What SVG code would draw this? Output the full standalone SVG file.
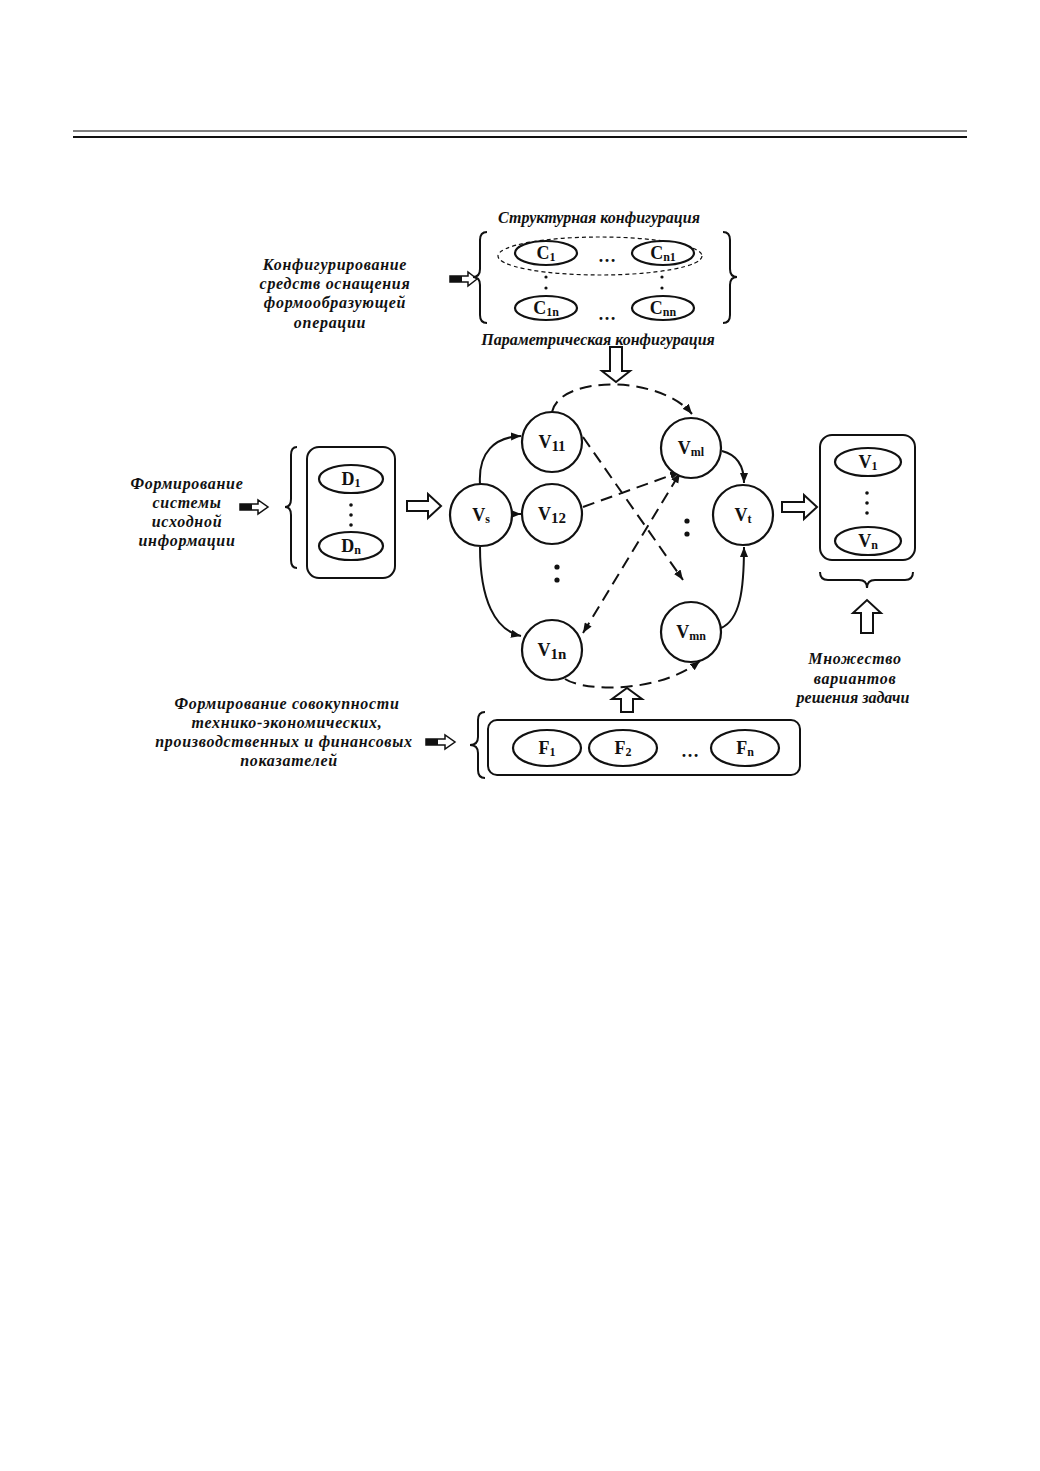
<svg xmlns="http://www.w3.org/2000/svg" width="1040" height="1471" viewBox="0 0 1040 1471">
<style>
.lbl{font-family:"Liberation Serif","DejaVu Serif",serif;font-weight:bold;font-style:italic;font-size:16px;fill:#111;text-anchor:middle}
.ls{letter-spacing:0.7px}
.nl{font-family:"Liberation Serif","DejaVu Serif",serif;font-weight:bold;font-size:18px;fill:#111;text-anchor:middle}
.sub{font-size:12px}
.vsub{font-size:15px}
.shape{fill:#fff;stroke:#111;stroke-width:2.2}
.box{fill:none;stroke:#111;stroke-width:2}
.br{fill:none;stroke:#111;stroke-width:2}
.ha{fill:#fff;stroke:#111;stroke-width:2;stroke-linejoin:miter}
.sa{fill:#fff;stroke:#111;stroke-width:1.5}
.e{fill:none;stroke:#111;stroke-width:2}
.d{fill:none;stroke:#111;stroke-width:2;stroke-dasharray:12 7}
.dot{fill:#111}
</style>
<defs>
<marker id="ah" markerUnits="userSpaceOnUse" markerWidth="12" markerHeight="10" refX="10" refY="4" orient="auto">
<path d="M0,0 L10,4 L0,8 Z" fill="#111"/>
</marker>
<marker id="ahs" markerUnits="userSpaceOnUse" markerWidth="12" markerHeight="10" refX="0" refY="4" orient="auto">
<path d="M10,0 L0,4 L10,8 Z" fill="#111"/>
</marker>
</defs>
<rect width="1040" height="1471" fill="#fff"/>
<g id="header">
<line x1="73" y1="131" x2="967" y2="131" stroke="#808080" stroke-width="2"/>
<line x1="73" y1="137" x2="967" y2="137" stroke="#111" stroke-width="2"/>
</g>

<g id="config-label">
<text class="lbl ls" x="335" y="270">Конфигурирование</text>
<text class="lbl ls" x="335" y="289">средств оснащения</text>
<text class="lbl ls" x="335" y="308">формообразующей</text>
<text class="lbl ls" x="330" y="328">операции</text>
<polygon class="sa" points="450,276 468,276 468,272 477,279 468,286 468,282 450,282"/>
<rect x="450" y="276" width="12" height="6" fill="#111"/>
</g>

<g id="config">
<text class="lbl" x="599" y="223">Структурная конфигурация</text>
<path class="br" d="M487,232 Q480,232 480,240 L480,269 Q480,277 473,277 Q480,277 480,285 L480,315 Q480,323 487,323"/>
<path class="br" d="M723,232 Q730,232 730,240 L730,269 Q730,277 737,277 Q730,277 730,285 L730,315 Q730,323 723,323"/>
<ellipse cx="600" cy="256" rx="102" ry="19" fill="none" stroke="#111" stroke-width="1.2" stroke-dasharray="4 3"/>
<g id="C1"><ellipse class="shape" cx="546" cy="253" rx="31" ry="12"/><text class="nl" x="546" y="259">C<tspan class="sub" dy="2">1</tspan></text></g>
<text class="nl" x="607" y="262">…</text>
<g id="Cn1"><ellipse class="shape" cx="663" cy="253" rx="31" ry="12"/><text class="nl" x="663" y="259">C<tspan class="sub" dy="2">n1</tspan></text></g>
<circle class="dot" cx="546" cy="277" r="1.6"/><circle class="dot" cx="546" cy="288" r="1.6"/>
<circle class="dot" cx="662" cy="277" r="1.6"/><circle class="dot" cx="662" cy="288" r="1.6"/>
<g id="C1n"><ellipse class="shape" cx="546" cy="308" rx="31" ry="12"/><text class="nl" x="546" y="314">C<tspan class="sub" dy="2">1n</tspan></text></g>
<text class="nl" x="607" y="320">…</text>
<g id="Cnn"><ellipse class="shape" cx="663" cy="308" rx="31" ry="12"/><text class="nl" x="663" y="314">C<tspan class="sub" dy="2">nn</tspan></text></g>
<text class="lbl" x="598" y="345">Параметрическая конфигурация</text>
</g>

<g id="D-label">
<text class="lbl ls" x="187" y="489">Формирование</text>
<text class="lbl ls" x="187" y="508">системы</text>
<text class="lbl ls" x="187" y="527">исходной</text>
<text class="lbl ls" x="187" y="546">информации</text>
<polygon class="sa" points="240,504 258,504 258,500 268,507 258,514 258,510 240,510"/>
<rect x="240" y="504" width="12" height="6" fill="#111"/>
</g>

<g id="D-block">
<path class="br" d="M297,447 Q291,447 291,455 L291,499 Q291,507 285,507 Q291,507 291,515 L291,560 Q291,568 297,568"/>
<rect class="box" x="307" y="447" width="88" height="131" rx="12"/>
<g id="D1"><ellipse class="shape" cx="351" cy="479" rx="32" ry="14"/><text class="nl" x="351" y="485">D<tspan class="sub" dy="2">1</tspan></text></g>
<circle class="dot" cx="351" cy="505" r="1.8"/><circle class="dot" cx="351" cy="515" r="1.8"/><circle class="dot" cx="351" cy="525" r="1.8"/>
<g id="Dn"><ellipse class="shape" cx="351" cy="546" rx="32" ry="14"/><text class="nl" x="351" y="552">D<tspan class="sub" dy="2">n</tspan></text></g>
</g>

<g id="arrows-hollow">
<polygon class="ha" points="407,501 428,501 428,494 441,506 428,518 428,511 407,511"/>
<polygon class="ha" points="782,502 804,502 804,495 817,507 804,519 804,512 782,512"/>
<polygon class="ha" points="610,347 622,347 622,371 630,371 616,382 602,371 610,371"/>
<polygon class="ha" points="621,712 633,712 633,699 642,699 627,688 612,699 621,699"/>
<polygon class="ha" points="861,633 873,633 873,613 881,613 867,600 853,613 861,613"/>
</g>

<g id="connectors">
<path class="e" d="M480,484 C478,452 495,437 521,436" marker-end="url(#ah)"/>
<path class="e" d="M511,514 L521,514" marker-end="url(#ah)"/>
<path class="e" d="M480,547 C480,600 495,630 521,636" marker-end="url(#ah)"/>
<path class="e" d="M722,451 C738,455 744,466 744,483" marker-end="url(#ah)"/>
<path class="e" d="M721,628 C740,620 744,590 744,547" marker-end="url(#ah)"/>
<path class="d" d="M552,412 C560,375 660,375 692,414" marker-end="url(#ah)"/>
<path class="d" d="M583,437 L683,580" marker-end="url(#ah)"/>
<path class="d" d="M583,507 L680,472" marker-end="url(#ah)"/>
<path class="d" d="M583,633 L680,473" stroke-width="2.4" stroke-dasharray="16 6" marker-end="url(#ah)" marker-start="url(#ahs)"/>
<path class="d" d="M565,679 C585,692 660,693 700,661" marker-end="url(#ah)"/>
</g>

<g id="Vs"><circle class="shape" cx="481" cy="515" r="31"/><text class="nl" x="481" y="521">V<tspan class="sub" dy="2">s</tspan></text></g>
<g id="V11"><circle class="shape" cx="552" cy="442" r="30"/><text class="nl" x="552" y="448">V<tspan class="vsub" dy="3">11</tspan></text></g>
<g id="V12"><circle class="shape" cx="552" cy="514" r="30"/><text class="nl" x="552" y="520">V<tspan class="vsub" dy="3">12</tspan></text></g>
<g id="V1n"><circle class="shape" cx="552" cy="650" r="30"/><text class="nl" x="552" y="656">V<tspan class="vsub" dy="3">1n</tspan></text></g>
<g id="Vm1"><circle class="shape" cx="691" cy="448" r="30"/><text class="nl" x="691" y="454">V<tspan class="sub" dy="2">ml</tspan></text></g>
<g id="Vt"><circle class="shape" cx="743" cy="515" r="30"/><text class="nl" x="743" y="521">V<tspan class="sub" dy="2">t</tspan></text></g>
<g id="Vmn"><circle class="shape" cx="691" cy="632" r="30"/><text class="nl" x="691" y="638">V<tspan class="sub" dy="2">mn</tspan></text></g>
<g id="graph-dots">
<circle class="dot" cx="557" cy="567" r="2.6"/><circle class="dot" cx="557" cy="580" r="2.6"/>
<circle class="dot" cx="687" cy="521" r="2.6"/><circle class="dot" cx="687" cy="534" r="2.6"/>
</g>

<g id="V-block">
<rect class="box" x="820" y="435" width="95" height="125" rx="12"/>
<g id="V1"><ellipse class="shape" cx="868" cy="462" rx="33" ry="14"/><text class="nl" x="868" y="468">V<tspan class="sub" dy="2">1</tspan></text></g>
<circle class="dot" cx="867" cy="493" r="1.8"/><circle class="dot" cx="867" cy="503" r="1.8"/><circle class="dot" cx="867" cy="513" r="1.8"/>
<g id="Vn"><ellipse class="shape" cx="868" cy="541" rx="33" ry="14"/><text class="nl" x="868" y="547">V<tspan class="sub" dy="2">n</tspan></text></g>
<path class="br" d="M820,572 Q820,580 828,580 L859,580 Q867,580 867,588 Q867,580 875,580 L905,580 Q913,580 913,572"/>
<text class="lbl ls" x="855" y="664">Множество</text>
<text class="lbl ls" x="855" y="684">вариантов</text>
<text class="lbl" x="853" y="703">решения задачи</text>
</g>

<g id="F-label">
<text class="lbl ls" x="287" y="709">Формирование совокупности</text>
<text class="lbl ls" x="287" y="728">технико-экономических,</text>
<text class="lbl ls" x="284" y="747">производственных и финансовых</text>
<text class="lbl ls" x="289" y="766">показателей</text>
<polygon class="sa" points="426,739 445,739 445,735 455,742 445,749 445,745 426,745"/>
<rect x="426" y="739" width="12" height="6" fill="#111"/>
</g>

<g id="F-block">
<path class="br" d="M485,712 Q478,712 478,720 L478,737 Q478,745 470,745 Q478,745 478,753 L478,770 Q478,778 485,778"/>
<rect class="box" x="488" y="720" width="312" height="55" rx="9"/>
<g id="F1"><ellipse class="shape" cx="547" cy="748" rx="34" ry="18"/><text class="nl" x="547" y="754">F<tspan class="sub" dy="2">1</tspan></text></g>
<g id="F2"><ellipse class="shape" cx="623" cy="748" rx="34" ry="18"/><text class="nl" x="623" y="754">F<tspan class="sub" dy="2">2</tspan></text></g>
<text class="nl" x="690" y="757">…</text>
<g id="Fn"><ellipse class="shape" cx="745" cy="748" rx="34" ry="18"/><text class="nl" x="745" y="754">F<tspan class="sub" dy="2">n</tspan></text></g>
</g>
</svg>
